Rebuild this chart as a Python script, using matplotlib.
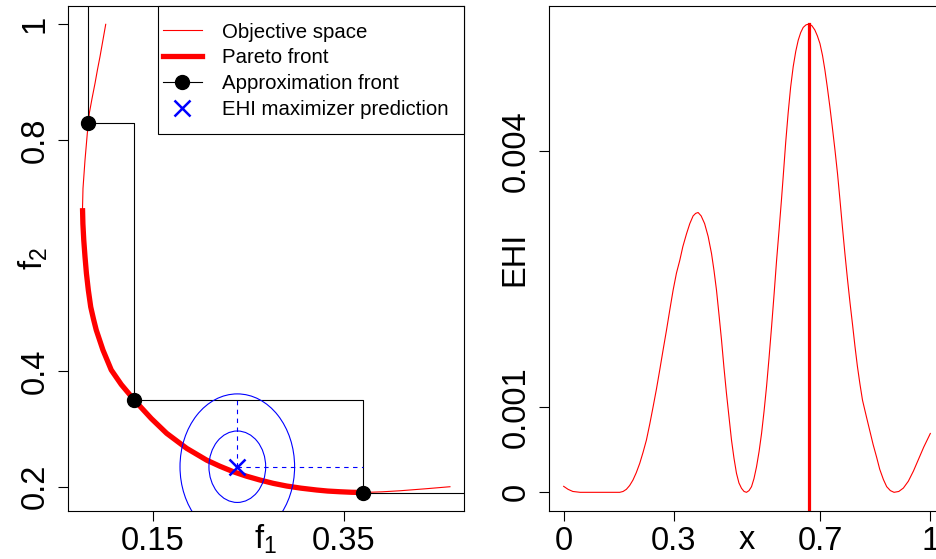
import numpy as np
import matplotlib
matplotlib.use('Agg')
import matplotlib.pyplot as plt
from matplotlib.patches import Ellipse, Rectangle
from matplotlib.lines import Line2D

plt.rcParams['font.family'] = ['Liberation Sans', 'DejaVu Sans']
plt.rcParams['mathtext.fontset'] = 'custom'
plt.rcParams['mathtext.rm'] = 'Liberation Sans'
plt.rcParams['mathtext.it'] = 'Liberation Sans'
plt.rcParams['mathtext.default'] = 'regular'

# ---------------- data: left panel ----------------
obj_f1 = [0.1005, 0.0975, 0.0945, 0.0918, 0.0893, 0.0862, 0.0833, 0.0812, 0.0788,
          0.0767, 0.0762, 0.0766, 0.0775, 0.0788, 0.0803, 0.0823, 0.0848, 0.0877,
          0.0906, 0.0976, 0.1063, 0.1168, 0.1304, 0.1482, 0.1643, 0.1853, 0.2062,
          0.2200, 0.2340, 0.2480, 0.2620, 0.2760, 0.2900, 0.3050, 0.3214, 0.3330,
          0.3458, 0.3580, 0.3700, 0.3900, 0.4086, 0.4366, 0.4610]
obj_f2 = [1.000, 0.972, 0.944, 0.921, 0.898, 0.872, 0.846, 0.811, 0.765,
          0.716, 0.682, 0.655, 0.627, 0.598, 0.569, 0.540, 0.511, 0.490,
          0.471, 0.4365, 0.402, 0.3768, 0.350, 0.318, 0.2924, 0.2664, 0.246,
          0.2355, 0.2260, 0.2182, 0.2116, 0.2058, 0.2012, 0.1975, 0.1943, 0.1925,
          0.1913, 0.1904, 0.1900, 0.1912, 0.1930, 0.1966, 0.2000]

pareto_f1 = [0.0762, 0.0766, 0.0775, 0.0788, 0.0803, 0.0823, 0.0848, 0.0877,
             0.0906, 0.0976, 0.1063, 0.1168, 0.1304, 0.1482, 0.1643, 0.1853,
             0.2062, 0.2200, 0.2340, 0.2480, 0.2620, 0.2760, 0.2900, 0.3050,
             0.3214, 0.3330, 0.3458, 0.3580, 0.3700]
pareto_f2 = [0.682, 0.655, 0.627, 0.598, 0.569, 0.540, 0.511, 0.490,
             0.471, 0.4365, 0.402, 0.3768, 0.350, 0.318, 0.2924, 0.2664,
             0.246, 0.2355, 0.2260, 0.2182, 0.2116, 0.2058, 0.2012, 0.1975,
             0.1943, 0.1925, 0.1913, 0.1904, 0.1900]

approx_f1 = [0.0823, 0.1304, 0.3700]
approx_f2 = [0.830, 0.350, 0.190]
ref_point = [0.60, 1.20]

ehi_pred = [0.2383, 0.2346]
ell_half_w = [0.0297, 0.0600]
ell_half_h = [0.0618, 0.1260]

x_ticks_l = [0.15, 0.35]
x_ticklabels_l = ['0.15', '0.35']
y_ticks_l = [0.2, 0.4, 0.8, 1.0]
y_ticklabels_l = ['0.2', '0.4', '0.8', '1']

legend_labels = ['Objective space', 'Pareto front', 'Approximation front',
                 'EHI maximizer prediction']

# ---------------- data: right panel ----------------
x_vals = [0.0, 0.012, 0.025, 0.045, 0.10, 0.153, 0.162, 0.171, 0.180, 0.189,
          0.198, 0.2075, 0.2166, 0.2257, 0.2348, 0.2438, 0.253, 0.262, 0.2712,
          0.2804, 0.2895, 0.2985, 0.3076, 0.3167, 0.325, 0.335, 0.344, 0.353,
          0.360, 0.3667, 0.375, 0.3844, 0.394, 0.4032, 0.410, 0.4168, 0.4237,
          0.4305, 0.437, 0.444, 0.451, 0.4577, 0.4645, 0.4713, 0.478, 0.485,
          0.492, 0.4986, 0.5055, 0.5123, 0.519, 0.526, 0.533, 0.5397, 0.5465,
          0.5533, 0.560, 0.567, 0.574, 0.5807, 0.587, 0.594, 0.5987, 0.6055,
          0.6123, 0.619, 0.626, 0.633, 0.6397, 0.6465, 0.6533, 0.661, 0.6697,
          0.677, 0.685, 0.692, 0.699, 0.706, 0.7125, 0.719, 0.726, 0.733, 0.740,
          0.747, 0.7535, 0.760, 0.767, 0.774, 0.781, 0.788, 0.7945, 0.801, 0.808,
          0.815, 0.826, 0.835, 0.844, 0.8536, 0.862, 0.872, 0.881, 0.891, 0.901,
          0.914, 0.9265, 0.940, 0.954, 0.968, 0.982, 1.0]
ehi_milli = [0.07, 0.035, 0.01, 0.0, 0.0, 0.0, 0.01, 0.035, 0.08, 0.144,
             0.23, 0.34, 0.47, 0.613, 0.80, 1.0, 1.21, 1.434, 1.67,
             1.90, 2.14, 2.37, 2.57, 2.72, 2.88, 3.03, 3.15, 3.24,
             3.27, 3.28, 3.24, 3.15, 3.00, 2.80, 2.60, 2.37, 2.08,
             1.785, 1.47, 1.16, 0.88, 0.613, 0.40, 0.223, 0.11, 0.047,
             0.01, 0.0, 0.02, 0.066, 0.16, 0.30, 0.48, 0.69, 0.95,
             1.24, 1.57, 1.94, 2.33, 2.72, 3.05, 3.43, 3.70, 4.10,
             4.45, 4.75, 4.99, 5.17, 5.30, 5.39, 5.45, 5.48, 5.49,
             5.47, 5.42, 5.35, 5.26, 5.12, 4.95, 4.75, 4.52, 4.27, 4.01,
             3.73, 3.43, 3.12, 2.80, 2.50, 2.22, 1.96, 1.71, 1.48, 1.27,
             1.08, 0.88, 0.72, 0.56, 0.41, 0.27, 0.15, 0.066, 0.02, 0.0,
             0.01, 0.05, 0.13, 0.25, 0.39, 0.53, 0.69]
ehi_vals = [v * 1e-3 for v in ehi_milli]
ehi_argmax = 0.6697
ehi_max = 5.49e-3

x_ticks_r = [0.0, 0.3, 0.7, 1.0]
x_ticklabels_r = ['0', '0.3', '0.7', '1']
y_ticks_r = [0.0, 0.001, 0.004]
y_ticklabels_r = ['0', '0.001', '0.004']

# ---------------- figure ----------------
W, H = 937, 559
fig = plt.figure(figsize=(W / 100, H / 100), dpi=100)
ax1 = fig.add_axes([68 / W, 1 - 511 / H, 396 / W, 505 / H])
ax2 = fig.add_axes([549 / W, 1 - 511 / H, 396 / W, 505 / H])

TICK_FS = 23.5
LW_THIN = 0.8

# left panel
ax1.plot(obj_f1, obj_f2, color='red', lw=LW_THIN, zorder=2)
ax1.plot(pareto_f1, pareto_f2, color='red', lw=3.8, solid_capstyle='butt',
         solid_joinstyle='round', zorder=3)

stair_x = [approx_f1[0]]
stair_y = [ref_point[1]]
for i in range(len(approx_f1)):
    stair_x.append(approx_f1[i]); stair_y.append(approx_f2[i])
    if i + 1 < len(approx_f1):
        stair_x.append(approx_f1[i + 1]); stair_y.append(approx_f2[i])
stair_x.append(ref_point[0]); stair_y.append(approx_f2[-1])
ax1.plot(stair_x, stair_y, color='black', lw=LW_THIN, zorder=4)
ax1.plot(approx_f1, approx_f2, 'o', color='black', ms=10, zorder=6)

for hw, hh in zip(ell_half_w, ell_half_h):
    ax1.add_patch(Ellipse(ehi_pred, 2 * hw, 2 * hh, fill=False, edgecolor='blue',
                          lw=LW_THIN, zorder=5))
ax1.plot([ehi_pred[0], ehi_pred[0]], [ehi_pred[1], approx_f2[1]], color='blue',
         lw=LW_THIN, ls=(0, (4, 4)), zorder=5)
ax1.plot([ehi_pred[0], approx_f1[2]], [ehi_pred[1], ehi_pred[1]], color='blue',
         lw=LW_THIN, ls=(0, (4, 4)), zorder=5)
ax1.plot([ehi_pred[0]], [ehi_pred[1]], 'x', color='blue', ms=12, mew=1.8, zorder=7)

ax1.set_xlim(0.0610, 0.4757)
ax1.set_ylim(0.158, 1.0317)
ax1.set_xticks(x_ticks_l)
ax1.set_xticklabels(x_ticklabels_l)
ax1.set_yticks(y_ticks_l)
ax1.set_yticklabels(y_ticklabels_l, rotation=90, va='center')

# legend box (R style) + entries
ax1.add_patch(Rectangle(((157.7 - 68) / 396, (511 - 134) / 505),
                        (464 - 157.7) / 396, (134 - 6) / 505,
                        transform=ax1.transAxes, facecolor='white',
                        edgecolor='black', lw=LW_THIN, zorder=8, clip_on=False))
handles = [
    Line2D([], [], color='red', lw=LW_THIN),
    Line2D([], [], color='red', lw=3.8),
    Line2D([], [], color='black', lw=LW_THIN, marker='o', ms=10),
    Line2D([], [], color='blue', lw=0, marker='x', ms=12, mew=1.8),
]
leg = ax1.legend(handles, legend_labels, loc='upper left',
                 bbox_to_anchor=((163 - 68) / 396, (511 - 22.5) / 505),
                 borderaxespad=0, borderpad=0, fontsize=14.7, frameon=False,
                 handlelength=1.91, handletextpad=0.98, labelspacing=0.33)
leg.set_zorder(9)

# right panel
ax2.plot(x_vals, ehi_vals, color='red', lw=LW_THIN)
ax2.plot([ehi_argmax, ehi_argmax], [-1, ehi_max], color='red', lw=2.3)
ax2.set_xlim(-0.04, 1.04)
ax2.set_ylim(-0.000219, 0.005701)
ax2.set_xticks(x_ticks_r)
ax2.set_xticklabels(x_ticklabels_r)
ax2.set_yticks(y_ticks_r)
ax2.set_yticklabels(y_ticklabels_r, rotation=90, va='center')

for ax in (ax1, ax2):
    for sp in ax.spines.values():
        sp.set_linewidth(LW_THIN)
        sp.set_color('black')
    ax.tick_params(axis='both', direction='out', length=7.2, width=LW_THIN,
                   labelsize=TICK_FS, color='black')
    ax.tick_params(axis='x', pad=3.6)
    ax.tick_params(axis='y', pad=5.5)

ax1.set_xlabel('f$_1$', fontsize=TICK_FS, va='baseline')
ax1.xaxis.set_label_coords(0.5, -(549 - 511) / 505)
ax1.set_ylabel('f$_2$', fontsize=TICK_FS, va='baseline')
ax1.yaxis.set_label_coords(-(68 - 43) / 396, 0.5)
ax2.set_xlabel('x', fontsize=TICK_FS, va='baseline')
ax2.xaxis.set_label_coords(0.5, -(549 - 511) / 505)
ax2.set_ylabel('EHI', fontsize=TICK_FS, va='baseline')
ax2.yaxis.set_label_coords(-(549 - 523) / 396, 0.5)

fig.savefig('out.png', dpi=100)
